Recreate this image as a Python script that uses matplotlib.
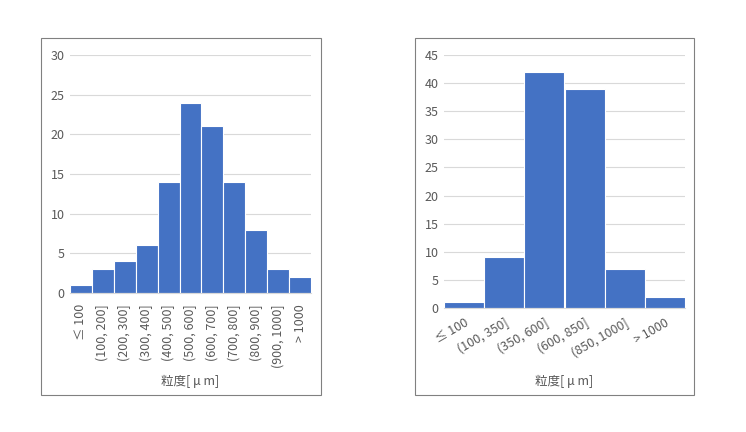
import matplotlib.pyplot as plt
from matplotlib.patches import Rectangle

plt.rcParams['font.family'] = ['Noto Sans CJK JP', 'DejaVu Sans']

left_labels = ['≤ 100', '(100, 200]', '(200, 300]', '(300, 400]', '(400, 500]',
               '(500, 600]', '(600, 700]', '(700, 800]', '(800, 900]',
               '(900, 1000]', '> 1000']
left_counts = [1, 3, 4, 6, 14, 24, 21, 14, 8, 3, 2]

right_labels = ['≤ 100', '(100, 350]', '(350, 600]', '(600, 850]',
                '(850, 1000]', '> 1000']
right_counts = [1, 9, 42, 39, 7, 2]

XLABEL = '粒度[ μ m]'
BAR = '#4472C4'
TXT = '#595959'
W, H = 746, 432

fig = plt.figure(figsize=(W / 100, H / 100), dpi=100)

# outer frames around each chart
for x0, x1 in [(41, 321), (415, 694)]:
    fig.add_artist(Rectangle((x0 / W, 1 - 395 / H), (x1 - x0) / W, (395 - 38) / H,
                             transform=fig.transFigure, fill=False,
                             edgecolor='#808080', linewidth=0.8))


def draw(rect, labels, counts, ymax, step, rot, ha):
    l, t, r, b = rect
    ax = fig.add_axes([l / W, 1 - b / H, (r - l) / W, (b - t) / H])
    ax.bar(range(len(counts)), counts, width=1.0, color=BAR,
           edgecolor='white', linewidth=0.8, zorder=2)
    ax.set_xlim(-0.5, len(counts) - 0.5)
    ax.set_ylim(0, ymax)
    ax.set_yticks(range(0, ymax + 1, step))
    ax.set_xticks(range(len(counts)))
    ax.set_xticklabels(labels, rotation=rot, ha=ha,
                       rotation_mode='anchor' if rot != 90 else 'default')
    ax.grid(axis='y', color='#d9d9d9', linewidth=0.8, zorder=0)
    for s in ['top', 'right', 'left']:
        ax.spines[s].set_visible(False)
    ax.spines['bottom'].set_color('#d9d9d9')
    ax.tick_params(length=0, labelsize=9, colors=TXT, pad=4)
    return ax


ax1 = draw((70, 55, 311, 293), left_labels, left_counts, 30, 5, 90, 'center')
ax1.tick_params(axis='x', pad=8)
fig.text((70 + 311) / 2 / W, 1 - 381 / H, XLABEL, ha='center', va='center',
         fontsize=9, color=TXT)

ax2 = draw((444, 55, 685, 308), right_labels, right_counts, 45, 5, 30, 'right')
ax2.tick_params(axis='x', pad=6)
fig.text((444 + 685) / 2 / W, 1 - 381 / H, XLABEL, ha='center', va='center',
         fontsize=9, color=TXT)

fig.savefig('out.png', dpi=100)
